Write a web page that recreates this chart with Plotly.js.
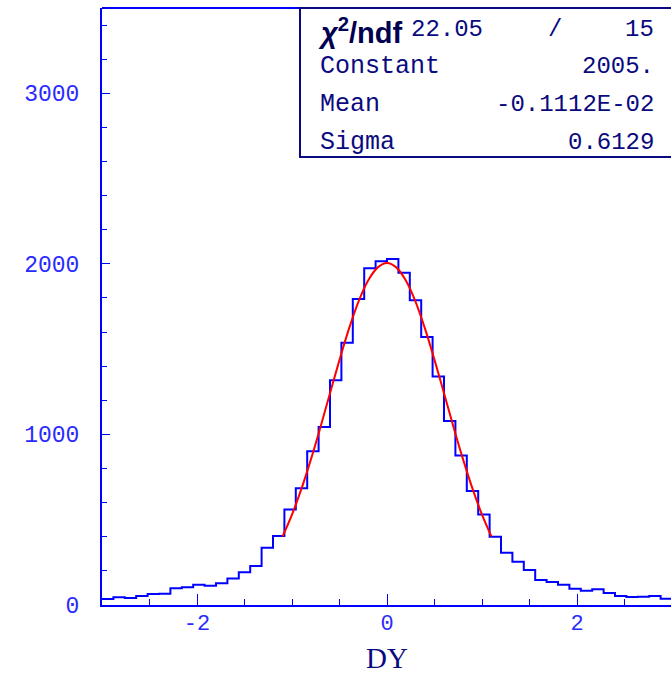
<!DOCTYPE html>
<html>
<head>
<meta charset="utf-8">
<script src="https://cdn.plot.ly/plotly-3.0.1.min.js"></script>
<style>html,body{margin:0;padding:0;background:#fff;}#chart{width:671px;height:673px;}</style>
</head>
<body>
<div id="chart"></div>
<script>
// Histogram of DY: 50 bins of width 0.12 from -3 to 3
const binLow = -3.0;
const binWidth = 0.12;
const counts = [
  35, 45, 41, 53, 64, 66, 98, 104, 119, 113,
  127, 156, 192, 229, 336, 405, 560, 685, 902, 1043,
  1317, 1538, 1794, 1974, 2016, 2028, 1948, 1786, 1571, 1340,
  1078, 877, 668, 530, 400, 307, 254, 205, 147, 135,
  119, 96, 84, 92, 70, 53, 47, 49, 53, 37
];
// Gaussian fit curve, sampled points
const fitX = [-1.1,-1.0,-0.9,-0.8,-0.7,-0.6,-0.5,-0.4,-0.3,-0.2,-0.1,0.0,0.1,0.2,0.3,0.4,0.5,0.6,0.7,0.8,0.9,1.0,1.1];
const fitY = [401,530,682,855,1044,1242,1437,1620,1779,1901,1978,2005,1978,1901,1779,1620,1437,1242,1044,855,682,530,401];
// Tick labels
const xTickVals = [-2, 0, 2];
const xTickText = ["-2", "0", "2"];
const yTickVals = [0, 1000, 2000, 3000];
const yTickText = ["0", "1000", "2000", "3000"];
// Stats box
const statLabels = ["Constant", "Mean", "Sigma"];
const statValues = ["2005.", "-0.1112E-02", "0.6129"];
const chi2 = "22.05";
const ndf = "15";
const xTitle = "DY";

const edges = counts.map((c, i) => binLow + i * binWidth);
edges.push(binLow + counts.length * binWidth);
const stepY = counts.concat([counts[counts.length - 1]]);

const BLUE = '#0000ff';
const LBLUE = '#2a2aff';
const NAVY = '#0a0a80';
const MONO = '"Liberation Mono", "Courier New", monospace';

const traces = [
  {x: edges, y: stepY, type: 'scatter', mode: 'lines', line: {shape: 'hv', color: BLUE, width: 2}, hoverinfo: 'skip'},
  {x: fitX, y: fitY, type: 'scatter', mode: 'lines', line: {shape: 'spline', color: '#ff0000', width: 2}, hoverinfo: 'skip'}
];

const W = 569, H = 597, L = 102, T = 8;
const px = v => (v - L) / W;
const py = v => (T + H - v) / H;

const annotations = [];
const rowY = [67, 105, 142];
statLabels.forEach((s, i) => {
  annotations.push({xref: 'paper', yref: 'paper', x: px(318), y: py(rowY[i]), xanchor: 'left', yanchor: 'middle', text: s, showarrow: false, font: {family: MONO, size: 25, color: NAVY}});
  annotations.push({xref: 'paper', yref: 'paper', x: px(656), y: py(rowY[i]), xanchor: 'right', yanchor: 'middle', text: statValues[i], showarrow: false, font: {family: MONO, size: 24, color: NAVY}});
});
annotations.push({xref: 'paper', yref: 'paper', x: px(316), y: py(31), xanchor: 'left', yanchor: 'middle', text: '<b><i>χ</i><sup>2</sup>/ndf</b>', showarrow: false, font: {family: '"Liberation Sans", Arial, sans-serif', size: 29, color: '#000050'}});
annotations.push({xref: 'paper', yref: 'paper', x: px(409), y: py(30), xanchor: 'left', yanchor: 'middle', text: chi2, showarrow: false, font: {family: MONO, size: 24, color: NAVY}});
annotations.push({xref: 'paper', yref: 'paper', x: px(555), y: py(30), xanchor: 'center', yanchor: 'middle', text: '/', showarrow: false, font: {family: MONO, size: 24, color: NAVY}});
annotations.push({xref: 'paper', yref: 'paper', x: px(656), y: py(30), xanchor: 'right', yanchor: 'middle', text: ndf, showarrow: false, font: {family: MONO, size: 24, color: NAVY}});
// x-axis title, placed below the tick labels
annotations.push({xref: 'x', yref: 'paper', x: 0, y: py(658), xanchor: 'center', yanchor: 'middle', borderpad: 0, text: xTitle, showarrow: false, font: {family: '"Liberation Serif", "DejaVu Serif", serif', size: 29, color: NAVY}});

const layout = {
  width: 671, height: 673,
  margin: {l: L, r: 0, t: T, b: 673 - T - H},
  paper_bgcolor: '#fff', plot_bgcolor: '#fff',
  showlegend: false,
  xaxis: {
    range: [-3, -3 + W / 95], showgrid: false, zeroline: false,
    showline: true, linecolor: BLUE, linewidth: 2,
    ticks: 'inside', ticklen: 11, tickwidth: 1, tickcolor: BLUE,
    tickmode: 'array', tickvals: xTickVals, ticktext: xTickText,
    minor: {dtick: 0.5, tick0: 0, ticks: 'inside', ticklen: 6, tickcolor: BLUE, tickwidth: 1, showgrid: false},
    tickfont: {family: MONO, size: 22, color: LBLUE},
    ticklabelstandoff: -3
  },
  yaxis: {
    range: [0, 3500], showgrid: false, zeroline: false,
    showline: true, linecolor: BLUE, linewidth: 2,
    ticks: 'inside', ticklen: 8, tickwidth: 1, tickcolor: BLUE,
    tickmode: 'array', tickvals: yTickVals, ticktext: yTickText,
    minor: {dtick: 200, tick0: 0, ticks: 'inside', ticklen: 5, tickcolor: BLUE, tickwidth: 1, showgrid: false},
    tickfont: {family: MONO, size: 23, color: LBLUE},
    ticklabelstandoff: 16
  },
  shapes: [
    {type: 'line', xref: 'paper', yref: 'paper', x0: 0, x1: 1, y0: 1, y1: 1, line: {color: BLUE, width: 2}},
    {type: 'rect', xref: 'paper', yref: 'paper', x0: px(300), x1: 1.02, y0: py(157), y1: 1, line: {color: NAVY, width: 2}, fillcolor: '#fff', layer: 'above'}
  ],
  annotations: annotations
};

Plotly.newPlot('chart', traces, layout, {displayModeBar: false, staticPlot: true});
</script>
</body>
</html>
